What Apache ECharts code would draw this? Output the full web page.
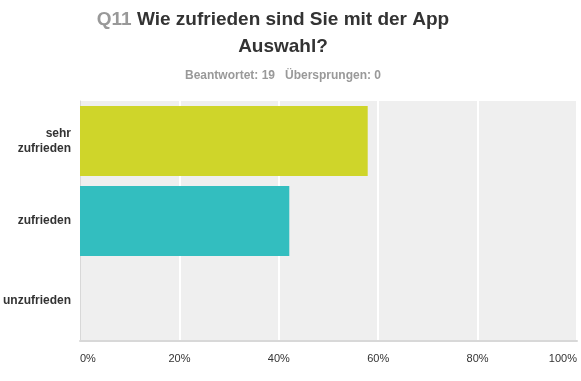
<!DOCTYPE html>
<html><head><meta charset="utf-8">
<script src="https://cdn.jsdelivr.net/npm/echarts@6/dist/echarts.min.js"></script>
<style>html,body{margin:0;padding:0;background:#fff}#c{width:581px;height:381px}</style>
</head><body><div id="c"></div>
<script>
var categories = ['sehr\nzufrieden', 'zufrieden', 'unzufrieden'];
var values = [57.89, 42.11, 0];
var barColors = ['#cfd52a', '#33bebf', '#999999'];
var tickLabels = ['0%', '20%', '40%', '60%', '80%', '100%'];

var FF = 'Liberation Sans, Arial, sans-serif';
var chart = echarts.init(document.getElementById('c'), null, {renderer: 'canvas'});
chart.setOption({
  animation: false,
  backgroundColor: '#fff',
  textStyle: {fontFamily: FF},
  title: [{
    text: '{q|Q11} Wie zufrieden sind Sie mit der App',
    left: 268, top: 5, textAlign: 'center',
    textStyle: {
      fontSize: 19, fontWeight: 'bold', color: '#333', fontFamily: FF,
      rich: {q: {fontSize: 19, fontWeight: 'bold', color: '#999', fontFamily: FF}}
    }
  }, {
    text: 'Auswahl?',
    left: 278, top: 32, textAlign: 'center',
    textStyle: {fontSize: 19, fontWeight: 'bold', color: '#333', fontFamily: FF}
  }, {
    text: 'Beantwortet: 19   Übersprungen: 0',
    left: 278, top: 65, textAlign: 'center',
    textStyle: {fontSize: 12, fontWeight: 'bold', color: '#999', fontFamily: FF}
  }],
  grid: {left: 79, right: 4, top: 101, bottom: 40, show: true, backgroundColor: '#efefef', borderWidth: 0},
  xAxis: {
    type: 'value', min: 0, max: 100, interval: 20,
    axisLine: {show: true, lineStyle: {color: '#d8d8d8', width: 2}},
    axisTick: {show: false},
    splitLine: {show: true, lineStyle: {color: '#ffffff', width: 2}},
    axisLabel: {
      formatter: function (v) { return tickLabels[Math.round(v / 20)]; },
      color: '#333', fontSize: 11, margin: 12,
      alignMinLabel: 'left', alignMaxLabel: 'right'
    }
  },
  yAxis: {
    type: 'category', data: categories, inverse: true,
    axisLine: {show: true, lineStyle: {color: '#d8d8d8', width: 1}},
    axisTick: {show: false},
    axisLabel: {color: '#333', fontSize: 12, fontWeight: 'bold', margin: 9, lineHeight: 15, align: 'right'}
  },
  series: [{
    type: 'bar', barWidth: 70,
    data: values.map(function (v, i) { return {value: v, itemStyle: {color: barColors[i]}}; })
  }]
});
</script></body></html>
